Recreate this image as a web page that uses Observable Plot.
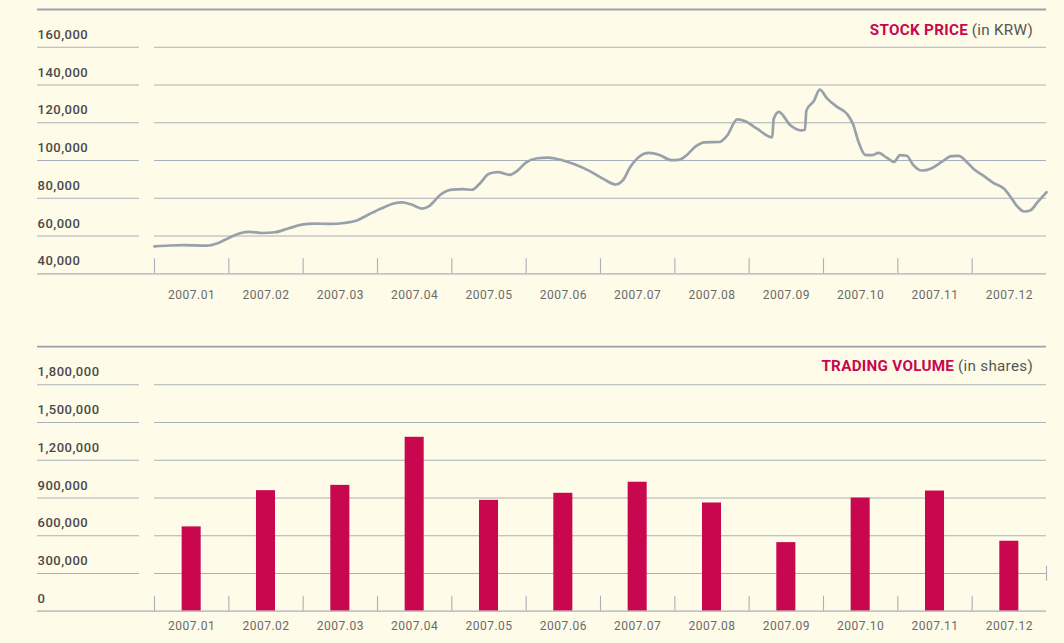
<!DOCTYPE html>
<html><head><meta charset="utf-8">
<script src="https://cdn.jsdelivr.net/npm/d3@7"></script>
<script src="https://cdn.jsdelivr.net/npm/@observablehq/plot@0.6"></script>
<style>
html,body{margin:0;padding:0;background:#FEFBE8;}
#root{position:relative;width:1064px;height:643px;background:#FEFBE8;font-family:Roboto,sans-serif;overflow:hidden}
.panel{position:absolute;left:0}
.title{position:absolute;right:31px;font-size:15.2px;white-space:nowrap;line-height:18px;font-family:Roboto,sans-serif}
.title b{color:#C8074F;font-weight:700;letter-spacing:0.3px}
.title span{color:#555;font-weight:400;letter-spacing:0.3px}
</style></head><body><div id="root"></div>
<script>
// ---- data ----
const months = ["2007.01","2007.02","2007.03","2007.04","2007.05","2007.06","2007.07","2007.08","2007.09","2007.10","2007.11","2007.12"];
const priceTicks = [40000, 60000, 80000, 100000, 120000, 140000, 160000];
const volumeTicks = [0, 300000, 600000, 900000, 1200000, 1500000, 1800000];
// position along the year in months (0 = start of Jan, 12 = end of Dec)
const priceMonth = [0.00,0.20,0.40,0.70,0.85,1.00,1.15,1.28,1.45,1.62,1.80,1.98,2.15,2.37,2.55,2.73,2.90,3.05,3.22,3.33,3.45,3.60,3.70,3.85,4.00,4.15,4.27,4.38,4.50,4.62,4.78,4.88,5.00,5.15,5.30,5.45,5.65,5.85,6.05,6.20,6.30,6.40,6.52,6.65,6.80,6.95,7.05,7.15,7.28,7.40,7.60,7.70,7.84,7.95,8.10,8.31,8.33,8.40,8.55,8.70,8.75,8.77,8.87,8.95,9.05,9.18,9.32,9.40,9.47,9.56,9.65,9.74,9.85,9.95,10.03,10.12,10.20,10.32,10.45,10.60,10.72,10.82,10.92,11.02,11.15,11.29,11.43,11.52,11.60,11.70,11.78,11.88,12.00];
const priceValue = [54500,55000,55200,54900,56200,59000,61500,62200,61600,62000,64000,66000,66600,66400,66900,68400,71800,74600,77200,77800,76800,74500,76000,82000,84600,84800,84500,88000,93000,93800,92400,94500,99000,101200,101500,100500,98000,94500,90000,87300,89500,96500,102000,104000,102800,100200,100300,102500,107500,109600,109800,113000,121800,120800,117000,112300,122000,125800,118800,116000,116300,126500,131500,137500,132800,128500,124500,119000,110000,103000,102800,104000,101500,99300,102800,102500,98000,94700,95800,99500,102300,102500,99500,95500,92000,88000,85000,80500,76000,73000,73500,78000,83200];
const volume = [670000, 958000, 1000000, 1382000, 881000, 937000, 1025000, 860000, 545000, 899000, 955000, 556000];

// ---- styles ----
const grid = "#a9b0b9";
const crimson = "#C8074F";
const lineColor = "#98a1ab";
const labelColor = "#4a4a4a";
const monthColor = "#6a6a6a";

const priceData = priceMonth.map((m, i) => ({m, v: priceValue[i]}));
const fmt = d3.format(",");
const root = document.getElementById("root");

const commonStyle = {background: "transparent", fontFamily: "Roboto, sans-serif", overflow: "visible", letterSpacing: "0.5px"};

// ---- top panel: stock price ----
const H1 = 337, frameTop = 46.7, frameBottom = 273.3;
const topChart = Plot.plot({
  width: 1064, height: H1,
  marginLeft: 154, marginRight: 18, marginTop: frameTop, marginBottom: H1 - frameBottom,
  style: commonStyle,
  x: {domain: [0, 12], axis: null, label: null},
  y: {domain: [priceTicks[0], priceTicks[priceTicks.length - 1]], label: null},
  marks: [
    Plot.ruleY(priceTicks.slice(-1), {stroke: "#9ba2ab", strokeWidth: 1.8, dy: -37.7, insetLeft: -117}),
    Plot.ruleY(priceTicks.slice(1), {stroke: grid, strokeWidth: 1.1}),
    Plot.ruleY(priceTicks.slice(1), {stroke: grid, strokeWidth: 1.1, insetLeft: -117, insetRight: 907}),
    Plot.ruleY(priceTicks.slice(0, 1), {stroke: grid, strokeWidth: 1.3, insetLeft: -117}),
    Plot.ruleX(d3.range(months.length), {stroke: grid, strokeWidth: 1.1, insetTop: (frameBottom - frameTop) - 15}),
    Plot.line(priceData, {x: "m", y: "v", curve: "monotone-x", stroke: lineColor, strokeWidth: 2.7}),
    Plot.axisY(priceTicks, {anchor: "left", tickSize: 0, tickPadding: 117, textAnchor: "start", dy: -12.5, tickFormat: fmt, fontSize: 13, fontWeight: 500, fill: labelColor, label: null}),
    Plot.text(months, {x: (d, i) => i + 0.5, text: d => d, frameAnchor: "bottom", dy: 24.7, fontSize: 12, fill: monthColor})
  ]
});
topChart.classList.add("panel");
topChart.style.top = "0px";
root.appendChild(topChart);

// ---- bottom panel: trading volume ----
const H2 = 306, f2Top = 47.2, f2Bottom = 273.7;
const step = (1046 - 154) / months.length;
const bottomChart = Plot.plot({
  width: 1064, height: H2,
  marginLeft: 154, marginRight: 18, marginTop: f2Top, marginBottom: H2 - f2Bottom,
  style: commonStyle,
  x: {type: "band", domain: months, paddingInner: 0.744, paddingOuter: 0.372, round: false, axis: null, label: null},
  y: {domain: [volumeTicks[0], volumeTicks[volumeTicks.length - 1]], label: null},
  marks: [
    Plot.ruleY(volumeTicks.slice(-1), {stroke: "#9ba2ab", strokeWidth: 1.8, dy: -38, insetLeft: -117}),
    Plot.ruleY(volumeTicks.slice(1), {stroke: grid, strokeWidth: 1.1}),
    Plot.ruleY(volumeTicks.slice(1), {stroke: grid, strokeWidth: 1.1, insetLeft: -117, insetRight: 907}),
    Plot.ruleX(months, {stroke: grid, strokeWidth: 1.1, dx: -step / 2, insetTop: (f2Bottom - f2Top) - 15}),
    Plot.ruleX(months.slice(-1), {stroke: grid, strokeWidth: 1.1, dx: step / 2, insetTop: (f2Bottom - f2Top) - 45, insetBottom: 30}),
    Plot.barY(volume, {x: months, y: d => d, fill: crimson}),
    Plot.ruleY(volumeTicks.slice(0, 1), {stroke: grid, strokeWidth: 1.3, insetLeft: -117}),
    Plot.axisY(volumeTicks, {anchor: "left", tickSize: 0, tickPadding: 117, textAnchor: "start", dy: -12.5, tickFormat: fmt, fontSize: 13, fontWeight: 500, fill: labelColor, label: null}),
    Plot.text(months, {x: months, text: d => d, frameAnchor: "bottom", dy: 18.5, fontSize: 12, fill: monthColor})
  ]
});
bottomChart.classList.add("panel");
bottomChart.style.top = "337px";
root.appendChild(bottomChart);

// ---- titles ----
const t1 = document.createElement("div");
t1.className = "title"; t1.style.top = "21px";
t1.innerHTML = "<b>STOCK PRICE</b> <span>(in KRW)</span>";
root.appendChild(t1);
const t2 = document.createElement("div");
t2.className = "title"; t2.style.top = "357px";
t2.innerHTML = "<b>TRADING VOLUME</b> <span>(in shares)</span>";
root.appendChild(t2);
</script>
</body></html>
